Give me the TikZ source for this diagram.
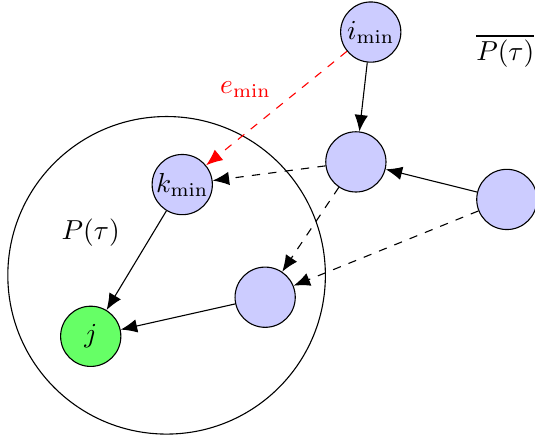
\documentclass[tikz,border=0pt]{standalone}
\usetikzlibrary{arrows.meta}

\begin{document}
\begin{tikzpicture}[
    >={Latex[length=6pt,width=4.9pt]},
    every node/.style={font=\normalsize},
    vertex/.style={circle, draw, fill=blue!20, minimum size=7.7mm, inner sep=0pt, line width=0.4pt},
    target/.style={vertex, fill=green!60},
    arc/.style={->, line width=0.4pt},
    candidate/.style={->, dashed, line width=0.4pt},
    chosen/.style={->, dashed, red, line width=0.4pt}
]
\useasboundingbox (0,0) rectangle (6.84,5.64);
% insieme P(tau) che contiene j
\draw (2.13,2.12) circle (2.03);
\node (ptau) at (1.16,2.67) {$P(\tau)$};
\node (ptaubar) at (6.46,4.99) {$\overline{P(\tau)}$};

\node[vertex] (imin) at (4.74,5.23) {$i_{\min}$};
\node[vertex] (kmin) at (2.33,3.28) {$k_{\min}$};
\node[vertex] (u) at (4.55,3.57) {};
\node[vertex] (w) at (6.48,3.09) {};
\node[vertex] (v) at (3.39,1.84) {};
\node[target] (j) at (1.16,1.34) {$j$};

\draw[arc] (imin) -- (u);
\draw[chosen] (imin) -- node[red, pos=0.57, xshift=-0.27cm, yshift=0.34cm] {$e_{\min}$} (kmin);
\draw[candidate] (u) -- (kmin);
\draw[candidate] (u) -- (v);
\draw[arc] (w) -- (u);
\draw[candidate] (w) -- (v);
\draw[arc] (kmin) -- (j);
\draw[arc] (v) -- (j);
\end{tikzpicture}
\end{document}
